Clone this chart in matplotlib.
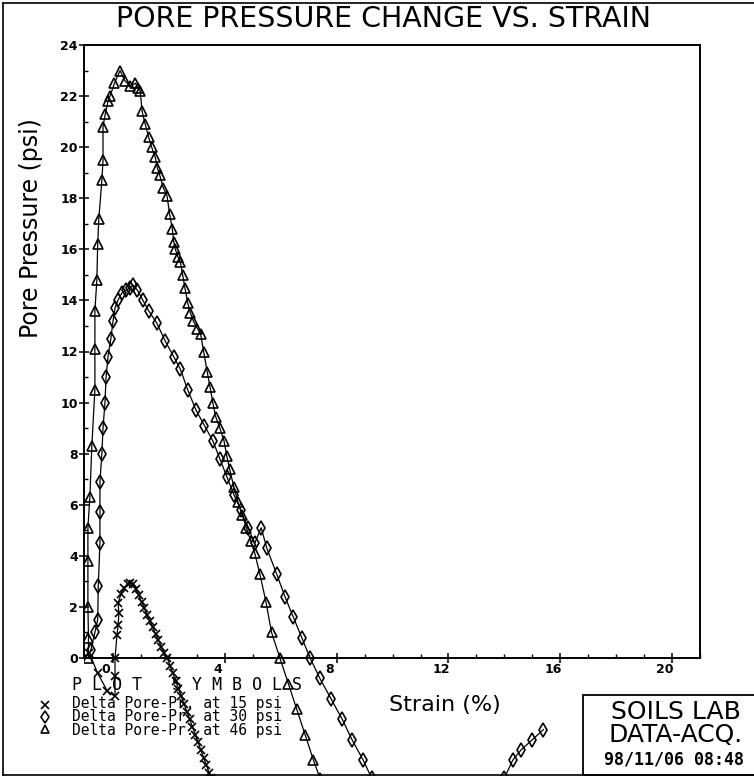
import matplotlib
matplotlib.use("Agg")
import matplotlib.pyplot as plt
import numpy as np
from matplotlib.lines import Line2D
from matplotlib.patches import Rectangle
from matplotlib.transforms import Bbox, TransformedBbox, ScaledTranslation

# Delta pore pressure (psi) vs axial strain (%)
strain15 = [-0.85, -0.55, -0.2, 0.07, 0.07, 0.07, 0.14, 0.18, 0.21, 0.18, 0.28, 0.4, 0.52, 0.62, 0.72,
            0.82, 0.92, 1.02, 1.12, 1.22, 1.32, 1.42, 1.52, 1.62, 1.72, 1.82, 1.94, 2.04, 2.14, 2.24,
            2.34, 2.44, 2.54, 2.64, 2.74, 2.84, 2.94, 3.04, 3.14, 3.24, 3.34, 3.44, 3.5]
pore15 = [0.2, -0.6, -1.3, -1.5, -0.7, 0.0, 0.9, 1.3, 1.75, 2.15, 2.5, 2.75, 2.9, 2.95, 2.9,
          2.7, 2.45, 2.2, 1.95, 1.7, 1.45, 1.2, 0.95, 0.7, 0.45, 0.2, 0.0, -0.3, -0.6, -0.9,
          -1.2, -1.5, -1.8, -2.1, -2.4, -2.7, -3.0, -3.3, -3.6, -3.9, -4.2, -4.5, -4.7]

strain30 = [-0.8, -0.65, -0.55, -0.53, -0.47, -0.47, -0.47, -0.4, -0.36, -0.29, -0.25, -0.18, -0.08,
            0.0, 0.07, 0.17, 0.32, 0.47, 0.62, 0.72, 0.87, 1.07, 1.27, 1.57, 1.87, 2.17, 2.41, 2.67,
            2.97, 3.27, 3.57, 3.82, 4.07, 4.32, 4.57, 4.82, 5.07, 5.3, 5.5, 5.85, 6.15, 6.45, 6.75,
            7.05, 7.4, 7.8, 8.2, 8.55, 8.95, 9.25, np.nan, 14.0, 14.3, 14.6, 15.0, 15.4]
pore30 = [0.3, 1.0, 1.5, 2.8, 4.5, 5.7, 6.9, 8.0, 9.0, 10.0, 11.0, 11.8, 12.5,
          13.2, 13.7, 14.0, 14.3, 14.4, 14.5, 14.6, 14.4, 14.0, 13.6, 13.1, 12.4, 11.8, 11.3, 10.5,
          9.7, 9.1, 8.5, 7.8, 7.1, 6.4, 5.8, 5.1, 4.5, 5.1, 4.3, 3.3, 2.4, 1.6, 0.8,
          0.0, -0.8, -1.6, -2.4, -3.2, -4.0, -4.7, np.nan, -4.7, -4.0, -3.6, -3.2, -2.8]

strain45 = [-0.88, -0.88, -0.9, -0.9, -0.9, -0.83, -0.76, -0.65, -0.65, -0.65, -0.58, -0.55, -0.51,
            -0.4, -0.36, -0.36, -0.28, -0.18, -0.11, 0.05, 0.25, 0.42, 0.61, 0.8, 0.9, 0.97, 1.04,
            1.15, 1.27, 1.38, 1.51, 1.58, 1.67, 1.8, 1.93, 2.02, 2.12, 2.17, 2.23, 2.32, 2.41, 2.49,
            2.57, 2.67, 2.77, 2.87, 3.02, 3.13, 3.24, 3.37, 3.47, 3.57, 3.67, 3.82, 3.97, 4.07, 4.17,
            4.32, 4.47, 4.62, 4.77, 4.92, 5.07, 5.25, 5.47, 5.67, 5.97, 6.27, 6.57, 6.87, 7.17, 7.4]
pore45 = [0.0, 0.8, 2.0, 3.8, 5.1, 6.3, 8.3, 10.5, 12.1, 13.6, 14.8, 16.2, 17.2,
          18.7, 19.5, 20.8, 21.3, 21.8, 22.0, 22.5, 23.0, 22.6, 22.4, 22.5, 22.3, 22.2, 21.4,
          20.9, 20.4, 20.0, 19.6, 19.2, 18.9, 18.4, 18.1, 17.4, 16.8, 16.3, 16.0, 15.7, 15.5, 15.0,
          14.5, 13.9, 13.5, 13.2, 12.9, 12.7, 12.0, 11.2, 10.6, 10.0, 9.45, 9.0, 8.5, 7.9, 7.4,
          6.7, 6.1, 5.6, 5.1, 4.6, 4.1, 3.3, 2.2, 1.0, 0.0, -1.0, -2.0, -3.0, -4.0, -4.7]

xTicks = [0, 4, 8, 12, 16, 20]
yTicks = [0, 2, 4, 6, 8, 10, 12, 14, 16, 18, 20, 22, 24]
legendLabels = ["Delta Pore-Pr. at 15 psi", "Delta Pore-Pr. at 30 psi", "Delta Pore-Pr. at 46 psi"]

W, H = 754, 777

def fx(px):
    return px / W

def fy(py):
    return 1 - py / H

fig = plt.figure(figsize=(W / 100, H / 100), dpi=100)
ax = fig.add_axes([fx(84), fy(658), (700 - 84) / W, (658 - 45) / H])

# curves run on below the axis, down to the outer frame
clipBox = TransformedBbox(Bbox.from_extents(fx(84), fy(775), fx(700), fy(45)), fig.transFigure)
series = [(strain15, pore15, "x", 6), (strain30, pore30, "d", 7.5), (strain45, pore45, "^", 7.5)]
for xs, ys, mk, ms in series:
    line, = ax.plot(xs, ys, color="black", lw=0.9, marker=mk, ms=ms, mfc="none", mec="black", mew=1.2)
    line.set_clip_box(clipBox)

ax.set_xlim(-1.04, 21.0)
ax.set_ylim(0, 24)
ax.set_xticks(xTicks)
ax.set_xticks(np.arange(-1, 22, 1), minor=True)
ax.set_yticks(yTicks)
ax.set_yticks(np.arange(0, 25, 1), minor=True)
ax.tick_params(axis="both", which="major", direction="inout", length=7, width=1.1, labelsize=9)
ax.tick_params(axis="both", which="minor", direction="in", length=3, width=1)
ax.tick_params(axis="x", pad=0)
ax.tick_params(axis="y", pad=1)
for lbl in ax.get_xticklabels() + ax.get_yticklabels():
    lbl.set_fontweight("bold")
for lbl in ax.get_xticklabels():
    lbl.set_transform(lbl.get_transform() + ScaledTranslation(-7 / 100, 0, fig.dpi_scale_trans))
for spine in ax.spines.values():
    spine.set_linewidth(1.4)

fig.text(fx(383), fy(19), "PORE PRESSURE CHANGE VS. STRAIN", ha="center", va="center", fontsize=20.5)
fig.text(fx(31), fy(228), "Pore Pressure (psi)", rotation=90, ha="center", va="center", fontsize=17)
fig.text(fx(445), fy(705), "Strain (%)", ha="center", va="center", fontsize=16)

# plot symbols key
fig.text(fx(72), fy(685), "P L O T   S Y M B O L S", ha="left", va="center",
         family="DejaVu Sans Mono", fontsize=12)
fig.text(fx(72), fy(717), "\n".join(legendLabels), ha="left", va="center",
         family="DejaVu Sans Mono", fontsize=10.5, linespacing=0.85)
for i, mk in enumerate(["x", "d", "^"]):
    fig.add_artist(Line2D([fx(45)], [fy(705 + 12 * i)], marker=mk, ms=6, mfc="none", mec="black",
                          mew=1.2, transform=fig.transFigure))

# stamp box
fig.add_artist(Rectangle((fx(583), fy(775)), fx(200), (775 - 695) / H, fill=False, lw=1.3,
                         edgecolor="black", transform=fig.transFigure))
fig.text(fx(676), fy(712), "SOILS LAB", ha="center", va="center", fontsize=18)
fig.text(fx(676), fy(735), "DATA-ACQ.", ha="center", va="center", fontsize=18)
fig.text(fx(674), fy(759), "98/11/06 08:48", ha="center", va="center", fontsize=12,
         family="DejaVu Sans Mono", fontweight="bold")

# outer frame
fig.add_artist(Line2D([fx(3), fx(3)], [fy(3), fy(775)], color="black", lw=1.2, transform=fig.transFigure))
fig.add_artist(Line2D([fx(3), 1], [fy(3), fy(3)], color="black", lw=1.2, transform=fig.transFigure))
fig.add_artist(Line2D([fx(3), 1], [fy(775), fy(775)], color="black", lw=1.2, transform=fig.transFigure))

fig.savefig("out.png", dpi=100)
